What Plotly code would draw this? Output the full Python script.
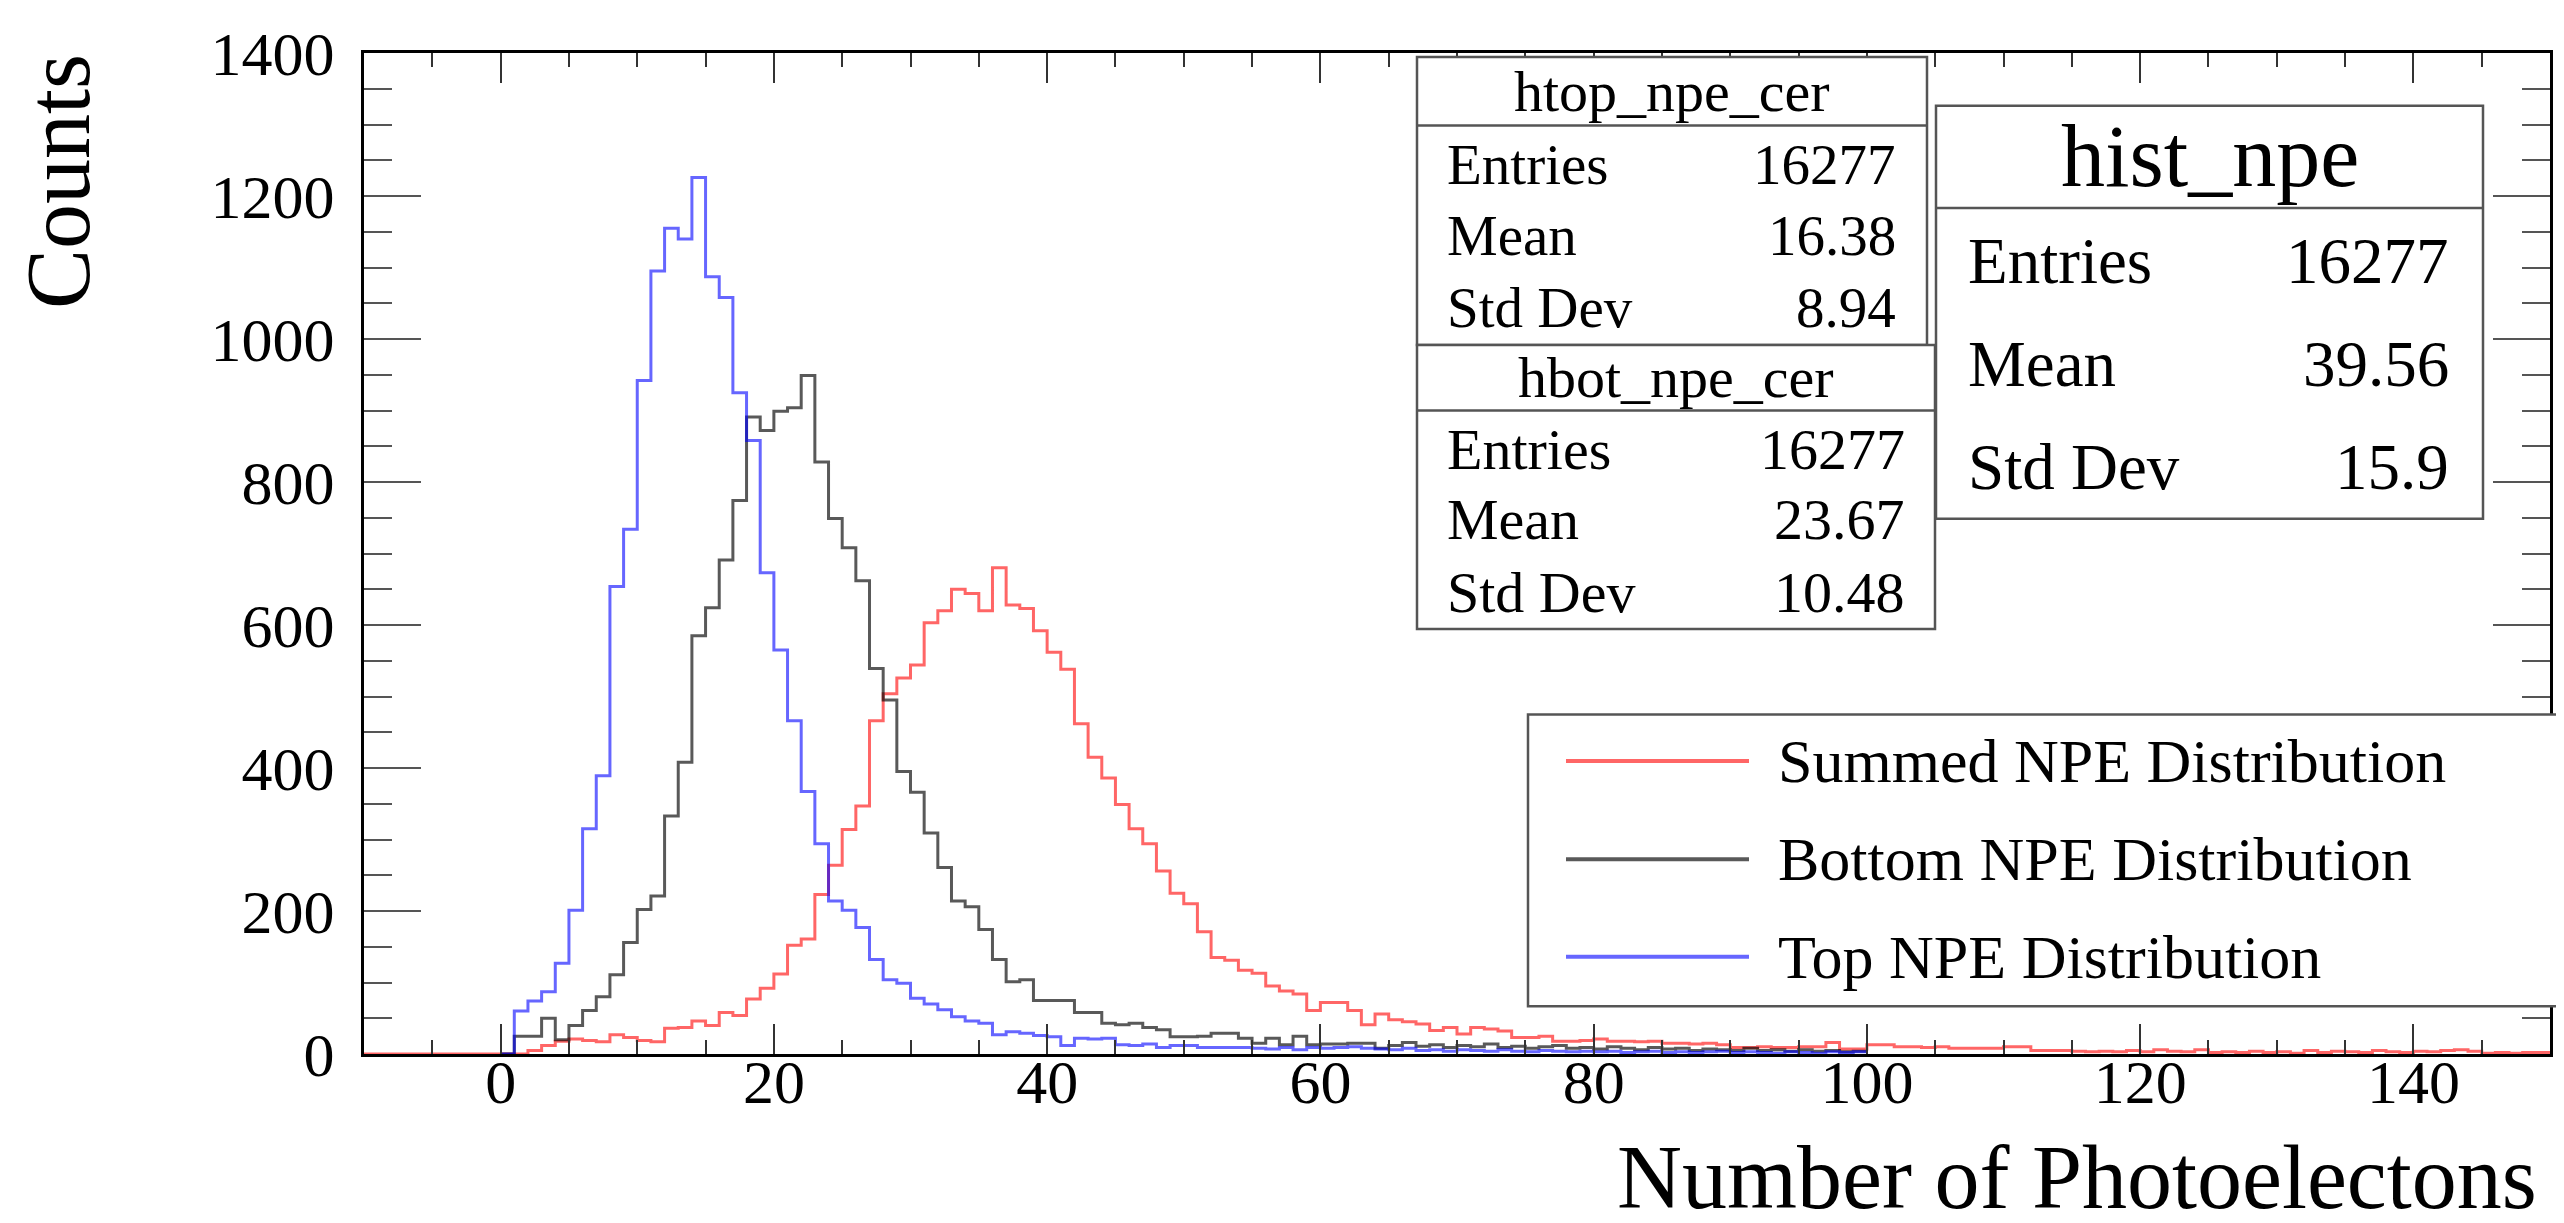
import numpy as np
import plotly.graph_objects as go

# histogram contents, bin width 1, first bin low edge given by *_start
sum_start = -10
sum_counts = [0] * 12 + [
    5, 12, 18, 21, 19, 17, 27, 23, 19, 17,                 # 2-11
    36, 37, 46, 40, 58, 54, 77, 92, 112, 152,              # 12-21
    161, 223, 264, 314, 347, 466, 504, 526, 544, 603,      # 22-31
    620, 650, 644, 620, 680, 628, 623, 592, 562, 538,      # 32-41
    462, 415, 386, 349, 315, 294, 256, 225, 210, 171,      # 42-51
    135, 131, 117, 113, 95, 88, 84, 61, 72, 72,            # 52-61
    61, 41, 56, 48, 45, 42, 33, 37, 28, 37,                # 62-71
    35, 32, 23, 23, 25, 18, 18, 19, 21, 18,                # 72-81
    18, 17, 18, 15, 15, 14, 15, 13, 9, 9,                  # 82-91
    10, 9, 9, 10, 10, 16, 7, 7, 13, 13,                    # 92-101
    10, 10, 9, 10, 8, 8, 8, 8, 10, 10,                     # 102-111
    5, 5, 5, 4, 3, 4, 3, 5, 3, 6,                          # 112-121
    4, 3, 6, 2, 3, 2, 4, 2, 3, 1,                          # 122-131
    5, 2, 4, 3, 2, 5, 3, 2, 4, 3,                          # 132-141
    5, 6, 4, 1, 2, 1, 2, 2,                                # 142-149
]

bot_start = 0
bot_counts = [
    0, 25, 25, 50, 20, 40, 61, 80, 111, 156,               # 0-9
    202, 221, 333, 408, 585, 624, 691, 774, 891, 872,      # 10-19
    899, 904, 949, 828, 749, 708, 662, 539, 495, 395,      # 20-29
    366, 309, 261, 214, 206, 174, 132, 101, 104, 75,       # 30-39
    75, 75, 58, 58, 43, 41, 43, 37, 34, 24,                # 40-49
    24, 25, 29, 29, 22, 15, 22, 13, 25, 13,                # 50-59
    14, 14, 15, 15, 8, 12, 16, 11, 13, 9,                  # 60-69
    12, 10, 14, 9, 11, 8, 10, 12, 8, 9,                    # 70-79
    7, 10, 8, 6, 9, 7, 8, 5, 7, 6,                         # 80-89
    5, 8, 5, 6, 4, 6, 4, 5, 3, 4,                          # 90-99
]

top_start = 0
top_counts = [
    0, 60, 74, 87, 127, 201, 315, 389, 654, 734,           # 0-9
    942, 1095, 1155, 1140, 1226, 1087, 1058, 925, 858, 673,  # 10-19
    565, 466, 367, 294, 214, 201, 177, 132, 104, 99,       # 20-29
    78, 70, 62, 52, 46, 43, 27, 31, 29, 26,                # 30-39
    24, 12, 22, 21, 22, 13, 12, 14, 9, 12,                 # 40-49
    12, 9, 9, 9, 9, 8, 7, 9, 6, 9,                         # 50-59
    8, 9, 10, 8, 7, 6, 8, 5, 6, 4,                         # 60-69
    6, 5, 4, 6, 4, 3, 5, 4, 3, 4,                          # 70-79
    3, 4, 2, 3, 4, 2, 3, 2, 3, 4,                          # 80-89
    2, 3, 2, 1, 3, 2, 1, 3, 2, 3,                          # 90-99
]

legend_labels = ["Summed NPE Distribution", "Bottom NPE Distribution", "Top NPE Distribution"]
colors = ["rgba(255,0,0,0.6)", "rgba(0,0,0,0.65)", "rgba(0,0,255,0.6)"]

stats = [
    ("htop_npe_cer", ["Entries", "Mean", "Std Dev"], ["16277", "16.38", "8.94"]),
    ("hbot_npe_cer", ["Entries", "Mean", "Std Dev"], ["16277", "23.67", "10.48"]),
    ("hist_npe", ["Entries", "Mean", "Std Dev"], ["16277", "39.56", "15.9"]),
]

FONT = "Liberation Serif"
W, H = 2564, 1223
L, R, T, B = 356, 2542, 38, 1046


def px(x):
    return (x - L) / (R - L)


def py(y):
    return (B - y) / (B - T)


def steps(start, counts):
    edges = np.arange(start, start + len(counts) + 1)
    vals = list(counts) + [counts[-1]]
    return edges, vals


fig = go.Figure()
for (start, counts), name, col in zip(
        [(sum_start, sum_counts), (bot_start, bot_counts), (top_start, top_counts)],
        legend_labels, colors):
    xs, ys = steps(start, counts)
    fig.add_trace(go.Scatter(x=xs, y=ys, mode="lines", line_shape="hv",
                             line=dict(color=col, width=3), name=name,
                             showlegend=False))

shapes = []
annots = []


def box(x0, y0, x1, y1):
    shapes.append(dict(type="rect", xref="paper", yref="paper",
                       x0=px(x0), x1=px(x1), y0=py(y1), y1=py(y0),
                       line=dict(color="#555", width=2.5), fillcolor="white",
                       layer="above"))


def hline(x0, x1, y):
    shapes.append(dict(type="line", xref="paper", yref="paper",
                       x0=px(x0), x1=px(x1), y0=py(y), y1=py(y),
                       line=dict(color="#555", width=2.5), layer="above"))


def text(s, x, y, size, anchor="left"):
    annots.append(dict(text=s, xref="paper", yref="paper", x=px(x), y=py(y),
                       xanchor=anchor, yanchor="middle", showarrow=False,
                       font=dict(family=FONT, size=size, color="black")))


# stat boxes
box_geo = [
    # x0, x1, top, sep, bottom, row ys, label x, value x, title size, row size
    (1409, 1919, 42, 111, 332, [150, 222, 294], 1437, 1890, 58, 57),
    (1409, 1927, 332, 398, 618, [437, 508, 581], 1437, 1899, 58, 58),
    (1928, 2475, 91, 194, 507, [247, 351, 455], 1958, 2443, 88, 65),
]
for (title, labs, vals), g in zip(stats, box_geo):
    x0, x1, top, sep, bot, rows, lx, vx, ts, rs = g
    box(x0, top, x1, bot)
    hline(x0, x1, sep)
    text(title, (x0 + x1) / 2, (top + sep) / 2, ts, "center")
    for lab, val, ry in zip(labs, vals, rows):
        text(lab, lx, ry, rs, "left")
        text(val, vx, ry, rs, "right")

# legend
box(1520, 704, 2555, 998)
for lab, col, ry in zip(legend_labels, colors, [751, 850, 948]):
    shapes.append(dict(type="line", xref="paper", yref="paper",
                       x0=px(1558), x1=px(1741), y0=py(ry), y1=py(ry),
                       line=dict(color=col, width=4), layer="above"))
    text(lab, 1768, ry, 62, "left")

# axis titles
annots.append(dict(text="Counts", xref="paper", yref="paper", x=px(50), y=py(168),
                   xanchor="center", yanchor="middle", textangle=-90, showarrow=False,
                   font=dict(family=FONT, size=90, color="black")))
annots.append(dict(text="Number of Photoelectons", xref="paper", yref="paper",
                   x=px(2531), y=py(1170), xanchor="right", yanchor="middle",
                   showarrow=False, font=dict(family=FONT, size=90, color="black")))

fig.update_layout(
    width=W, height=H,
    margin=dict(l=L, r=W - R, t=T, b=H - B),
    paper_bgcolor="white", plot_bgcolor="white",
    shapes=shapes, annotations=annots, showlegend=False,
    font=dict(family=FONT, color="black"),
)
fig.update_xaxes(
    range=[-10, 150], showgrid=False, zeroline=False,
    showline=True, linecolor="black", linewidth=3, mirror="ticks",
    ticks="inside", dtick=20, tick0=0, ticklen=30, tickwidth=2, tickcolor="#333",
    minor=dict(dtick=5, ticklen=14, tickwidth=2, tickcolor="#333", ticks="inside"),
    tickfont=dict(family=FONT, size=62, color="black"), ticklabelstandoff=-28,
)
fig.update_yaxes(
    range=[0, 1400], showgrid=False, zeroline=False,
    showline=True, linecolor="black", linewidth=3, mirror="ticks",
    ticks="inside", dtick=200, ticklen=57, tickwidth=2, tickcolor="#555",
    minor=dict(dtick=50, ticklen=28, tickwidth=2, tickcolor="#555", ticks="inside"),
    tickfont=dict(family=FONT, size=62, color="black"), ticklabelstandoff=14,
)

fig.write_html("out.html")
